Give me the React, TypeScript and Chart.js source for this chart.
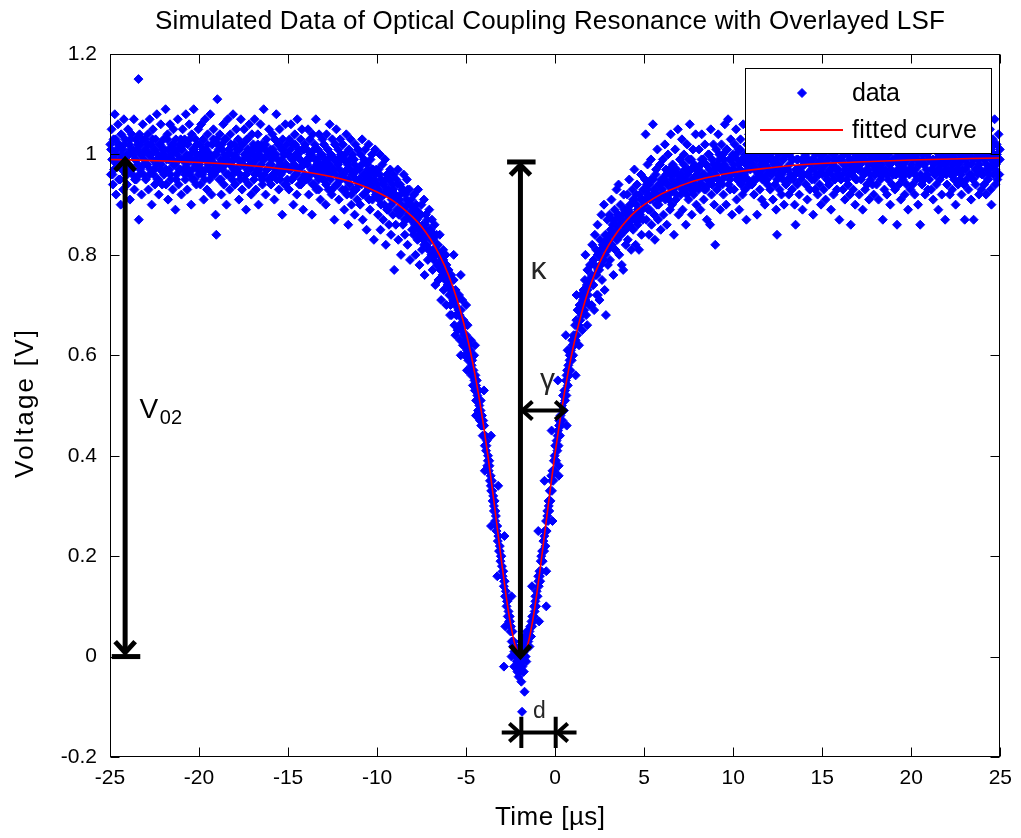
import React, { useEffect, useRef } from "react";
import { Chart, registerables } from "chart.js";

Chart.register(...registerables);

const FONT = '"Liberation Sans", Arial, Helvetica, sans-serif';

const titleText = "Simulated Data of Optical Coupling Resonance with Overlayed LSF";
const xAxisTitle = "Time [\u00b5s]";
const yAxisTitle = "Voltage [V]";
const legendLabels = ["data", "fitted curve"];

const xTickStep = 5;
const yTickStep = 0.2;
const xRange = [-25, 25];
const yRange = [-0.2, 1.2];

// Least-squares Lorentzian fit, sampled along the time axis
const fitTime = [
  -25, -22, -20, -18, -16, -14, -12, -11, -10, -9, -8, -7.5, -7, -6.5, -6, -5.5, -5, -4.75, -4.5, -4.25,
  -4, -3.75, -3.5, -3.25, -3, -2.75, -2.5, -2.25, -2, -1.9, -1.75, -1.5, -1.25, -1, -0.75, -0.5, -0.25, 0,
  0.25, 0.5, 0.75, 1, 1.25, 1.5, 1.75, 2, 2.5, 3, 3.5, 4, 4.5, 5, 6, 7, 8, 10, 12, 14, 17, 20, 25,
];
const fitVoltage = [
  0.99, 0.987, 0.984, 0.98, 0.974, 0.965, 0.951, 0.94, 0.925, 0.905, 0.875, 0.856, 0.831, 0.8, 0.761, 0.71,
  0.645, 0.606, 0.561, 0.511, 0.455, 0.393, 0.326, 0.256, 0.186, 0.12, 0.064, 0.023, 0.002, 0, 0.004, 0.029,
  0.074, 0.133, 0.2, 0.27, 0.34, 0.406, 0.466, 0.521, 0.57, 0.614, 0.652, 0.686, 0.716, 0.742, 0.785, 0.819,
  0.846, 0.868, 0.886, 0.9, 0.922, 0.937, 0.949, 0.964, 0.973, 0.98, 0.985, 0.989, 0.993,
];

// Simulated samples, stored as flat (time, voltage) pairs
const samplesLeftWing = [
  -24.98,1.02,-24.95,0.96,-24.91,1.05,-24.88,0.99,-24.84,0.94,-24.8,1.03,-24.77,0.97,-24.73,1.08,-24.7,1.0,-24.66,0.92,-24.62,1.01,-24.59,0.98,-24.55,1.06,-24.51,0.95,-24.48,1.02,-24.44,0.99,-24.4,0.9,-24.37,1.04,-24.33,0.97,-24.29,1.01,-24.26,0.93,-24.22,1.07,-24.18,0.98,-24.15,1.03,-24.11,0.96,-24.07,1.0,-24.04,0.94,
  -23.99,1.05,-23.96,0.98,-23.92,1.02,-23.88,0.91,-23.85,1.01,-23.81,0.97,-23.78,1.04,-23.74,0.96,-23.7,1.0,-23.66,1.07,-23.63,0.93,-23.59,0.99,-23.55,1.03,-23.52,0.95,-23.48,1.01,-23.44,0.98,-23.4,1.15,-23.38,0.87,-23.34,1.04,-23.3,0.97,-23.27,1.02,-23.23,0.92,-23.19,1.0,-23.16,1.06,-23.12,0.96,-23.08,0.99,-23.04,1.03,
  -22.99,0.95,-22.95,1.01,-22.92,0.98,-22.88,1.04,-22.84,0.93,-22.81,1.0,-22.77,1.07,-22.73,0.97,-22.7,1.02,-22.66,0.9,-22.62,0.99,-22.59,1.05,-22.55,0.96,-22.51,1.01,-22.48,0.94,-22.44,1.03,-22.4,0.98,-22.37,1.08,-22.33,0.95,-22.29,1.0,-22.26,0.92,-22.22,1.02,-22.18,0.97,-22.15,1.06,-22.11,0.99,-22.07,0.94,-22.03,1.01,
  -21.99,1.03,-21.96,0.96,-21.92,1.0,-21.88,1.09,-21.85,0.94,-21.81,0.99,-21.77,1.04,-21.74,0.91,-21.7,1.01,-21.66,0.97,-21.63,1.06,-21.59,0.95,-21.55,1.02,-21.52,0.99,-21.48,0.93,-21.44,1.05,-21.41,0.98,-21.37,1.01,-21.33,0.89,-21.3,1.03,-21.26,0.96,-21.22,1.0,-21.19,1.07,-21.15,0.94,-21.11,0.99,-21.08,1.02,-21.04,0.97,
  -20.99,0.92,-20.96,1.01,-20.92,1.05,-20.88,0.97,-20.85,0.99,-20.81,1.03,-20.77,0.95,-20.74,1.08,-20.7,0.98,-20.66,0.93,-20.63,1.02,-20.59,0.99,-20.55,1.06,-20.52,0.96,-20.48,1.0,-20.44,0.9,-20.41,1.04,-20.37,0.97,-20.33,1.01,-20.3,1.09,-20.26,0.95,-20.22,0.99,-20.19,1.03,-20.15,0.94,-20.11,1.0,-20.08,0.97,-20.04,1.05,
  -19.99,0.98,-19.96,1.02,-19.92,0.94,-19.88,1.06,-19.85,0.99,-19.81,0.96,-19.77,1.03,-19.74,0.91,-19.7,1.0,-19.66,1.07,-19.63,0.97,-19.59,1.01,-19.55,0.93,-19.52,1.04,-19.48,0.98,-19.44,1.0,-19.41,0.95,-19.37,1.08,-19.33,0.99,-19.3,0.92,-19.26,1.02,-19.22,0.97,-19.19,1.05,-19.15,0.96,-19.11,1.0,-19.07,0.88,-19.03,0.84,-19.01,1.03,
  -18.97,1.11,-18.94,0.97,-18.9,1.01,-18.86,0.95,-18.83,1.04,-18.79,0.99,-18.75,0.92,-18.72,1.02,-18.68,0.97,-18.64,1.06,-18.61,0.94,-18.57,1.0,-18.53,0.98,-18.5,1.03,-18.46,0.9,-18.42,0.99,-18.39,1.07,-18.35,0.96,-18.31,1.01,-18.28,0.93,-18.24,1.04,-18.2,0.98,-18.17,1.0,-18.13,0.95,-18.09,1.08,-18.06,0.97,-18.02,1.02,
  -17.98,0.94,-17.95,1.0,-17.91,1.05,-17.87,0.97,-17.84,0.99,-17.8,1.03,-17.76,0.91,-17.73,1.01,-17.69,0.96,-17.65,1.07,-17.62,0.98,-17.58,0.93,-17.54,1.02,-17.51,0.99,-17.47,1.05,-17.43,0.95,-17.4,1.0,-17.36,0.89,-17.32,1.03,-17.29,0.97,-17.25,1.01,-17.21,0.94,-17.18,1.06,-17.14,0.98,-17.1,1.0,-17.07,0.92,-17.03,1.04,
  -16.99,0.98,-16.95,1.02,-16.92,0.95,-16.88,1.07,-16.84,0.99,-16.81,0.93,-16.77,1.01,-16.73,0.97,-16.7,1.04,-16.66,0.9,-16.62,1.0,-16.59,0.96,-16.55,1.06,-16.51,0.98,-16.48,1.02,-16.44,0.94,-16.4,0.99,-16.37,1.09,-16.33,0.96,-16.29,1.01,-16.26,0.92,-16.22,1.03,-16.18,0.97,-16.15,1.0,-16.11,0.95,-16.07,1.05,-16.04,0.98,
  -15.99,1.01,-15.96,0.94,-15.92,0.99,-15.88,1.04,-15.85,0.96,-15.81,1.0,-15.77,0.91,-15.74,1.03,-15.7,0.97,-15.66,1.08,-15.63,0.95,-15.59,0.99,-15.55,1.02,-15.52,0.93,-15.48,1.05,-15.44,0.98,-15.41,0.96,-15.37,1.01,-15.33,0.88,-15.3,1.03,-15.26,0.97,-15.22,1.0,-15.19,0.94,-15.15,1.06,-15.11,0.98,-15.08,1.02,-15.04,0.95,
  -14.99,1.0,-14.95,0.93,-14.92,1.03,-14.88,0.97,-14.84,1.06,-14.81,0.95,-14.77,0.99,-14.73,1.02,-14.7,0.9,-14.66,0.98,-14.62,1.04,-14.59,0.96,-14.55,1.0,-14.51,0.92,-14.48,1.07,-14.44,0.97,-14.4,1.01,-14.37,0.94,-14.33,0.99,-14.29,1.03,-14.26,0.95,-14.22,1.05,-14.18,0.98,-14.15,0.89,-14.11,1.01,-14.07,0.96,-14.04,1.02,
  -13.99,0.95,-13.95,1.01,-13.92,0.98,-13.88,1.05,-13.84,0.92,-13.81,0.99,-13.77,1.03,-13.73,0.96,-13.7,1.0,-13.66,0.88,-13.62,1.04,-13.59,0.97,-13.55,0.94,-13.51,1.02,-13.48,0.99,-13.44,1.07,-13.4,0.93,-13.37,0.98,-13.33,1.01,-13.29,0.95,-13.26,1.04,-13.22,0.97,-13.18,0.91,-13.15,1.0,-13.11,0.96,-13.07,1.03,-13.04,0.98,
  -12.99,1.02,-12.95,0.95,-12.92,0.99,-12.88,0.9,-12.84,1.04,-12.81,0.97,-12.77,1.01,-12.73,0.93,-12.7,0.98,-12.66,1.06,-12.62,0.95,-12.59,1.0,-12.55,0.92,-12.51,1.03,-12.48,0.97,-12.44,0.99,-12.4,0.87,-12.37,1.02,-12.33,0.96,-12.29,1.05,-12.26,0.94,-12.22,0.99,-12.18,1.01,-12.15,0.91,-12.11,0.97,-12.07,1.03,-12.04,0.95,
  -11.99,0.99,-11.95,0.93,-11.92,1.02,-11.88,0.96,-11.84,0.89,-11.81,1.0,-11.77,0.95,-11.73,1.04,-11.7,0.92,-11.66,0.98,-11.62,0.86,-11.59,1.01,-11.55,0.94,-11.51,0.97,-11.48,1.03,-11.44,0.9,-11.4,0.96,-11.37,1.0,-11.33,0.93,-11.29,0.99,-11.26,0.88,-11.22,1.02,-11.18,0.95,-11.15,0.97,-11.11,0.91,-11.07,1.01,-11.04,0.94,
  -10.99,0.97,-10.95,0.9,-10.92,1.0,-10.88,0.94,-10.84,1.03,-10.81,0.87,-10.77,0.96,-10.73,0.99,-10.7,0.92,-10.66,1.01,-10.62,0.95,-10.59,0.85,-10.55,0.98,-10.51,0.93,-10.48,1.02,-10.44,0.96,-10.4,0.89,-10.37,0.99,-10.33,0.94,-10.29,1.0,-10.26,0.91,-10.22,0.97,-10.18,0.83,-10.15,0.95,-10.11,1.01,-10.07,0.92,-10.04,0.97,
];

const samplesLeftSlope = [
  -9.99,0.94,-9.95,0.88,-9.92,0.97,-9.88,0.91,-9.84,1.0,-9.81,0.85,-9.77,0.95,-9.73,0.92,-9.7,0.98,-9.66,0.87,-9.62,0.94,-9.59,0.9,-9.55,0.99,-9.51,0.82,-9.48,0.93,-9.44,0.96,-9.4,0.89,-9.37,0.95,-9.33,0.86,-9.29,0.92,-9.26,0.97,-9.22,0.84,-9.18,0.91,-9.15,0.94,-9.11,0.88,-9.07,0.96,-9.04,0.77,
  -8.99,0.92,-8.95,0.86,-8.92,0.95,-8.88,0.89,-8.84,0.97,-8.81,0.83,-8.77,0.91,-8.73,0.88,-8.7,0.94,-8.66,0.8,-8.62,0.9,-8.59,0.93,-8.55,0.86,-8.51,0.96,-8.48,0.89,-8.44,0.84,-8.4,0.92,-8.37,0.87,-8.33,0.95,-8.29,0.82,-8.26,0.9,-8.22,0.88,-8.18,0.93,-8.15,0.79,-8.11,0.87,-8.07,0.91,-8.04,0.85,
  -7.99,0.89,-7.95,0.84,-7.92,0.92,-7.88,0.86,-7.84,0.8,-7.81,0.9,-7.77,0.87,-7.73,0.83,-7.7,0.93,-7.66,0.85,-7.62,0.78,-7.59,0.88,-7.55,0.84,-7.51,0.9,-7.48,0.81,-7.44,0.86,-7.4,0.83,-7.37,0.91,-7.33,0.76,-7.29,0.85,-7.26,0.88,-7.22,0.82,-7.18,0.87,-7.15,0.79,-7.11,0.84,-7.07,0.89,-7.04,0.81,
  -6.99,0.85,-6.95,0.8,-6.92,0.87,-6.88,0.77,-6.84,0.83,-6.81,0.79,-6.77,0.86,-6.73,0.74,-6.7,0.81,-6.66,0.84,-6.62,0.78,-6.59,0.82,-6.55,0.75,-6.51,0.8,-6.48,0.84,-6.44,0.77,-6.4,0.71,-6.37,0.79,-6.33,0.76,-6.29,0.81,-6.26,0.73,-6.22,0.78,-6.18,0.75,-6.15,0.8,-6.11,0.7,-6.07,0.77,-6.04,0.74,
  -5.99,0.77,-5.95,0.72,-5.92,0.75,-5.88,0.7,-5.84,0.76,-5.81,0.68,-5.77,0.73,-5.73,0.71,-5.7,0.75,-5.66,0.66,-5.62,0.7,-5.59,0.73,-5.55,0.68,-5.51,0.71,-5.48,0.65,-5.44,0.69,-5.4,0.72,-5.37,0.66,-5.33,0.63,-5.29,0.69,-5.26,0.66,-5.22,0.71,-5.18,0.62,-5.15,0.67,-5.11,0.64,-5.07,0.6,-5.04,0.66,
  -4.99,0.64,-4.95,0.61,-4.92,0.66,-4.88,0.59,-4.84,0.62,-4.81,0.57,-4.77,0.61,-4.73,0.63,-4.7,0.56,-4.66,0.59,-4.62,0.54,-4.59,0.57,-4.55,0.6,-4.51,0.53,-4.48,0.56,-4.44,0.51,-4.4,0.55,-4.37,0.52,-4.33,0.49,-4.29,0.53,-4.26,0.5,-4.22,0.47,-4.18,0.51,-4.15,0.46,-4.11,0.48,-4.07,0.44,-4.04,0.47,
  -3.99,0.46,-3.95,0.42,-3.92,0.44,-3.88,0.41,-3.84,0.43,-3.81,0.38,-3.77,0.4,-3.73,0.37,-3.7,0.39,-3.66,0.35,-3.62,0.36,-3.59,0.33,-3.55,0.35,-3.51,0.31,-3.48,0.32,-3.44,0.29,-3.4,0.31,-3.37,0.27,-3.33,0.28,-3.29,0.25,-3.26,0.26,-3.22,0.23,-3.18,0.24,-3.15,0.21,-3.11,0.22,-3.07,0.19,-3.04,0.2,
  -2.99,0.18,-2.95,0.16,-2.92,0.17,-2.88,0.14,-2.84,0.15,-2.81,0.12,-2.77,0.13,-2.73,0.1,-2.7,0.11,-2.66,0.08,-2.62,0.09,-2.59,0.07,-2.55,0.08,-2.51,0.05,-2.48,0.06,-2.44,0.03,-2.4,0.05,-2.37,0.02,-2.33,0.03,-2.29,0.01,-2.26,0.02,-2.22,0.0,-2.18,0.01,-2.15,-0.01,-2.11,0.0,-2.07,-0.02,-2.04,0.01,
];

const samplesDipBottom = [
  -2.88,-0.02,-2.45,0.0,-2.3,-0.02,-2.12,-0.03,-2.05,-0.04,-1.98,-0.03,-1.9,-0.05,-1.78,-0.03,-1.62,-0.01,-1.72,-0.07,-1.86,-0.11,-0.5,0.1,
];

const samplesRightSlope = [
  -1.99,0.02,-1.95,-0.01,-1.92,0.03,-1.88,0.0,-1.84,-0.02,-1.81,0.02,-1.77,-0.03,-1.73,0.01,-1.7,0.04,-1.66,0.0,-1.62,0.03,-1.59,0.05,-1.55,0.02,-1.51,0.03,-1.48,0.04,-1.44,0.02,-1.4,0.06,-1.37,0.04,-1.33,0.07,-1.29,0.06,-1.26,0.08,-1.22,0.07,-1.18,0.1,-1.15,0.09,-1.11,0.12,-1.07,0.1,-1.04,0.13,
  -0.99,0.12,-0.95,0.16,-0.92,0.14,-0.88,0.17,-0.84,0.15,-0.81,0.19,-0.77,0.17,-0.73,0.21,-0.7,0.19,-0.66,0.23,-0.62,0.21,-0.59,0.25,-0.55,0.22,-0.51,0.27,-0.48,0.25,-0.44,0.29,-0.4,0.27,-0.37,0.31,-0.33,0.29,-0.29,0.33,-0.26,0.31,-0.22,0.36,-0.18,0.33,-0.15,0.37,-0.11,0.35,-0.07,0.39,-0.04,0.37,
  0.01,0.42,0.05,0.39,0.08,0.43,0.12,0.41,0.16,0.45,0.19,0.42,0.2,0.38,0.23,0.47,0.27,0.44,0.3,0.48,0.34,0.46,0.38,0.5,0.41,0.47,0.45,0.52,0.49,0.49,0.52,0.53,0.56,0.51,0.6,0.55,0.63,0.52,0.67,0.57,0.7,0.61,0.71,0.54,0.74,0.58,0.78,0.56,0.82,0.6,0.85,0.57,0.89,0.61,0.93,0.59,0.96,0.63,
  1.01,0.6,1.04,0.64,1.08,0.62,1.12,0.66,1.15,0.63,1.19,0.67,1.23,0.64,1.26,0.69,1.3,0.66,1.34,0.62,1.37,0.7,1.41,0.67,1.45,0.72,1.48,0.68,1.52,0.65,1.56,0.71,1.59,0.73,1.63,0.69,1.67,0.75,1.7,0.71,1.74,0.68,1.78,0.74,1.81,0.77,1.85,0.72,1.89,0.75,1.92,0.7,1.96,0.78,
  2.01,0.78,2.05,0.7,2.08,0.82,2.12,0.74,2.16,0.79,2.19,0.69,2.23,0.84,2.27,0.76,2.3,0.81,2.34,0.72,2.38,0.86,2.41,0.77,2.45,0.8,2.49,0.71,2.52,0.83,2.56,0.78,2.6,0.88,2.63,0.75,2.67,0.82,2.71,0.79,2.74,0.9,2.78,0.73,2.82,0.84,2.85,0.68,2.89,0.81,2.93,0.87,2.96,0.78,
  3.01,0.83,3.05,0.88,3.08,0.79,3.12,0.85,3.16,0.91,3.19,0.82,3.23,0.87,3.27,0.76,3.3,0.84,3.34,0.89,3.38,0.81,3.41,0.86,3.45,0.93,3.49,0.83,3.52,0.88,3.56,0.94,3.6,0.8,3.63,0.86,3.67,0.9,3.71,0.84,3.74,0.78,3.78,0.88,3.82,0.77,3.85,0.92,3.89,0.85,3.93,0.89,3.96,0.82,
  4.01,0.87,4.05,0.92,4.08,0.83,4.12,0.89,4.16,0.95,4.19,0.86,4.23,0.9,4.27,0.81,4.3,0.88,4.34,0.93,4.38,0.85,4.41,0.91,4.45,0.97,4.49,0.87,4.52,0.82,4.56,0.9,4.6,0.94,4.63,0.86,4.67,0.89,4.71,0.81,4.74,0.92,4.78,0.88,4.82,0.96,4.85,0.84,4.89,0.91,4.93,0.87,4.96,0.93,
];

// Samples scattered to either side of the steep flanks
const samplesFlankSpread = [
  -5.9,0.68,-5.7,0.8,-5.6,0.64,-5.3,0.76,-5.3,0.6,-5.0,0.7,-4.95,0.57,-4.5,0.62,-4.45,0.48,-4.0,0.53,-3.95,0.37,-3.6,0.44,
  -3.6,0.26,-3.2,0.34,-3.25,0.16,-2.85,0.24,-2.8,0.06,-2.45,0.12,
  -1.3,0.14,-0.9,0.07,-0.95,0.25,-0.5,0.17,-0.6,0.35,-0.15,0.27,-0.2,0.45,0.2,0.36,0.15,0.55,0.65,0.46,
  0.6,0.64,1.15,0.56,1.2,0.72,1.8,0.66,1.7,0.8,2.4,0.72,
];

const samplesRightWing = [
  5.01,0.9,5.05,0.95,5.08,1.04,5.12,0.87,5.16,0.93,5.19,0.98,5.23,0.89,5.27,0.84,5.3,0.94,5.34,0.91,5.38,0.99,5.41,0.86,5.45,0.92,5.49,1.06,5.52,0.95,5.56,0.88,5.6,0.83,5.63,0.93,5.67,0.97,5.71,0.9,5.74,1.01,5.78,0.87,5.82,0.94,5.85,0.91,5.89,0.98,5.93,0.85,5.96,0.95,
  6.01,0.93,6.05,0.99,6.08,0.88,6.12,0.95,6.16,1.02,6.19,0.91,6.23,0.96,6.27,0.86,6.3,0.94,6.34,1.0,6.38,0.92,6.41,0.97,6.45,0.89,6.49,1.04,6.52,0.95,6.56,0.9,6.6,0.98,6.63,0.93,6.67,0.84,6.71,0.96,6.74,1.01,6.78,0.91,6.82,0.97,6.85,0.94,6.89,1.05,6.93,0.88,6.96,0.95,
  7.01,0.99,7.05,0.92,7.08,0.96,7.12,1.03,7.16,0.89,7.19,0.95,7.23,1.0,7.27,0.93,7.3,0.97,7.34,0.86,7.38,0.94,7.41,1.02,7.45,0.96,7.49,0.91,7.52,0.99,7.56,1.06,7.6,0.93,7.63,0.97,7.67,0.88,7.71,0.95,7.74,1.01,7.78,0.92,7.82,0.98,7.85,0.94,7.89,1.04,7.93,0.9,7.96,0.96,
  8.01,0.97,8.05,0.93,8.08,1.01,8.12,0.95,8.16,0.89,8.19,0.98,8.23,1.04,8.27,0.94,8.3,0.99,8.34,0.91,8.38,0.96,8.41,1.02,8.45,0.93,8.49,0.98,8.52,0.87,8.56,0.95,8.6,1.0,8.63,0.94,8.67,0.97,8.7,0.86,8.74,1.05,8.78,0.92,8.82,0.99,8.85,0.95,8.89,1.02,8.93,0.9,8.96,0.97,8.99,0.82,
  9.02,0.96,9.05,1.01,9.09,0.93,9.12,0.98,9.16,1.04,9.2,0.94,9.23,0.99,9.27,0.89,9.31,0.97,9.34,1.02,9.38,0.95,9.42,1.0,9.45,0.92,9.49,0.98,9.53,1.06,9.56,0.96,9.6,0.9,9.64,1.01,9.67,0.97,9.71,1.07,9.75,0.94,9.78,0.99,9.82,0.93,9.86,1.03,9.89,0.96,9.93,0.88,9.97,1.0,
  10.01,0.98,10.05,0.93,10.08,1.02,10.12,0.96,10.16,1.05,10.19,0.91,10.23,0.99,10.27,0.95,10.3,1.01,10.34,0.89,10.38,0.97,10.41,1.03,10.45,0.94,10.49,0.99,10.52,0.92,10.56,1.06,10.6,0.96,10.63,1.0,10.67,0.93,10.71,0.98,10.74,0.87,10.78,1.02,10.82,0.95,10.85,0.99,10.89,1.04,10.93,0.94,10.96,0.97,
  11.01,1.0,11.05,0.94,11.08,0.98,11.12,1.05,11.16,0.92,11.19,0.97,11.23,1.02,11.27,0.95,11.3,0.99,11.34,0.88,11.38,1.01,11.41,0.96,11.45,1.04,11.49,0.93,11.52,0.98,11.56,1.0,11.6,0.91,11.63,0.97,11.67,1.06,11.71,0.95,11.74,0.99,11.78,0.9,11.82,1.03,11.85,0.96,11.89,1.0,11.93,0.94,11.96,1.02,
  12.01,0.97,12.05,1.03,12.08,0.93,12.12,0.99,12.16,0.96,12.19,1.05,12.23,0.91,12.27,0.98,12.3,1.01,12.34,0.94,12.38,0.99,12.41,0.89,12.46,0.84,12.49,1.02,12.52,0.96,12.56,1.0,12.6,0.93,12.63,1.06,12.67,0.97,12.71,0.92,12.74,1.01,12.78,0.95,12.82,0.99,12.85,0.9,12.89,1.04,12.93,0.97,12.96,0.94,
  13.01,1.0,13.05,0.95,13.08,1.03,13.12,0.92,13.16,0.98,13.19,1.01,13.23,0.96,13.27,1.07,13.3,0.93,13.34,0.99,13.38,0.95,13.41,1.02,13.45,0.9,13.5,0.86,13.52,0.97,13.56,1.04,13.6,0.94,13.63,0.99,13.67,1.01,13.71,0.92,13.74,0.97,13.78,1.05,13.82,0.95,13.85,0.99,13.89,0.89,13.93,1.02,13.96,0.96,
  14.01,0.98,14.05,1.03,14.08,0.94,14.12,0.99,14.16,0.91,14.19,1.01,14.23,0.96,14.27,1.05,14.3,0.93,14.34,0.98,14.38,1.02,14.41,0.95,14.45,0.99,14.49,0.88,14.52,1.04,14.56,0.97,14.6,0.93,14.63,1.0,14.67,0.96,14.71,1.06,14.74,0.92,14.78,0.98,14.82,1.01,14.85,0.94,14.89,0.99,14.93,0.9,14.96,1.03,
  15.01,0.96,15.05,1.0,15.08,0.93,15.12,1.04,15.16,0.98,15.19,0.91,15.23,1.02,15.27,0.95,15.3,0.99,15.34,1.06,15.38,0.94,15.41,0.97,15.45,1.01,15.49,0.89,15.52,0.96,15.56,1.03,15.6,0.98,15.63,0.92,15.67,1.0,15.71,0.95,15.74,1.05,15.78,0.97,15.82,0.93,15.85,1.01,15.89,0.96,15.93,0.99,15.96,0.87,
  16.01,1.02,16.05,0.95,16.08,0.99,16.12,1.05,16.16,0.93,16.19,0.98,16.23,1.01,16.27,0.91,16.3,0.97,16.34,1.03,16.38,0.95,16.41,1.0,16.45,0.94,16.49,1.07,16.52,0.98,16.56,0.92,16.6,0.86,16.63,1.01,16.67,0.96,16.71,0.99,16.74,0.93,16.78,1.04,16.82,0.97,16.85,0.9,16.89,1.0,16.93,0.95,16.96,1.02,
  17.01,0.97,17.05,1.01,17.08,0.92,17.12,0.98,17.16,1.04,17.19,0.95,17.23,0.99,17.27,0.89,17.3,1.02,17.34,0.96,17.38,1.0,17.41,0.93,17.45,1.06,17.49,0.97,17.52,0.94,17.56,1.01,17.6,0.98,17.63,0.91,17.67,1.03,17.71,0.96,17.74,0.99,17.78,1.05,17.82,0.94,17.85,0.98,17.89,0.92,17.93,1.01,17.96,0.96,
  18.01,1.0,18.05,0.94,18.08,1.03,18.12,0.97,18.16,0.91,18.19,0.99,18.23,1.05,18.27,0.95,18.3,0.98,18.34,1.02,18.4,0.87,18.42,0.96,18.45,1.0,18.49,0.93,18.52,1.04,18.56,0.97,18.6,0.99,18.63,0.92,18.67,1.01,18.71,0.95,18.74,1.06,18.78,0.98,18.82,0.9,18.85,0.97,18.89,1.02,18.93,0.94,18.96,0.99,
  19.01,0.96,19.05,1.02,19.08,0.93,19.12,0.99,19.16,1.04,19.2,0.86,19.23,0.97,19.27,1.0,19.3,0.94,19.34,1.03,19.38,0.96,19.41,0.91,19.45,0.99,19.49,1.05,19.52,0.95,19.56,0.98,19.6,1.01,19.63,0.92,19.67,0.97,19.71,1.03,19.74,0.94,19.78,0.99,19.82,0.89,19.85,1.0,19.89,0.96,19.93,1.04,19.96,0.93,
  20.01,0.98,20.05,1.01,20.08,0.94,20.12,0.99,20.16,1.05,20.19,0.92,20.23,0.97,20.27,1.02,20.3,0.95,20.34,1.0,20.38,0.9,20.41,0.98,20.45,1.03,20.5,0.86,20.52,0.96,20.56,1.01,20.6,0.94,20.63,0.99,20.67,1.06,20.71,0.95,20.74,0.98,20.78,0.92,20.82,1.02,20.85,0.97,20.89,1.0,20.93,0.93,20.96,1.04,
  21.01,0.95,21.05,0.99,21.08,1.03,21.12,0.93,21.16,0.97,21.19,1.01,21.23,0.91,21.27,0.98,21.3,1.05,21.34,0.96,21.38,0.99,21.41,0.94,21.45,1.02,21.49,0.97,21.52,0.89,21.56,1.0,21.6,0.95,21.63,1.04,21.67,0.98,21.71,0.92,21.74,1.01,21.78,0.96,21.82,0.99,21.85,1.06,21.9,0.87,21.93,0.97,21.96,1.0,
  22.01,0.94,22.05,1.02,22.08,0.97,22.12,0.99,22.16,0.92,22.19,1.04,22.23,0.96,22.27,1.0,22.3,0.93,22.34,0.98,22.38,1.05,22.41,0.95,22.45,0.99,22.49,0.9,22.52,1.02,22.56,0.97,22.6,1.01,22.63,0.94,22.67,0.98,22.71,1.06,22.74,0.95,22.78,0.99,22.82,0.92,22.85,1.03,22.89,0.97,22.93,1.0,22.96,0.94,
  23.0,0.87,23.03,0.99,23.06,1.03,23.1,0.95,23.14,0.98,23.17,1.05,23.21,0.93,23.25,1.0,23.28,0.96,23.32,1.02,23.36,0.91,23.39,0.98,23.43,1.04,23.47,0.95,23.5,0.87,23.54,0.99,23.58,1.01,23.61,0.94,23.65,0.97,23.69,1.06,23.72,0.96,23.76,0.99,23.8,0.92,23.83,1.03,23.87,0.97,23.91,1.0,23.94,0.93,23.98,1.02,
  24.02,0.96,24.05,1.01,24.09,0.94,24.13,0.99,24.16,1.04,24.2,0.92,24.24,0.98,24.27,1.02,24.31,0.95,24.35,1.0,24.38,0.97,24.42,1.05,24.46,0.93,24.5,0.9,24.53,0.99,24.57,1.03,24.61,0.96,24.64,1.0,24.68,1.07,24.72,0.94,24.75,0.98,24.79,1.02,24.83,0.95,24.86,0.99,24.9,1.04,24.94,0.96,24.97,1.01,
];

// Samples lying close to the dense centre of the band
const samplesCore = [
  -24.94,1.01,-24.86,0.96,-24.78,0.99,-24.69,1.03,-24.61,0.98,-24.53,1.02,-24.44,0.95,-24.36,1.0,-24.28,0.97,-24.19,1.02,-24.11,0.99,-24.03,0.96,
  -23.93,1.0,-23.85,1.03,-23.77,0.97,-23.68,1.01,-23.6,0.95,-23.52,0.99,-23.43,1.02,-23.35,0.96,-23.27,1.0,-23.18,1.03,-23.1,0.98,-23.02,1.01,
  -22.95,0.98,-22.86,1.02,-22.78,0.96,-22.7,1.0,-22.61,1.03,-22.53,0.97,-22.45,1.01,-22.36,0.99,-22.28,0.95,-22.2,1.02,-22.11,0.98,-22.03,1.0,
  -21.94,1.01,-21.86,0.97,-21.78,1.03,-21.69,0.99,-21.61,0.96,-21.53,1.0,-21.44,1.02,-21.36,0.98,-21.28,0.95,-21.19,1.01,-21.11,0.97,-21.03,1.03,
  -20.95,0.99,-20.86,1.02,-20.78,0.96,-20.7,1.0,-20.61,0.97,-20.53,1.03,-20.45,0.99,-20.36,0.95,-20.28,1.01,-20.2,0.98,-20.11,1.02,-20.03,0.96,
  -19.94,1.0,-19.86,0.97,-19.78,1.01,-19.69,0.95,-19.61,0.99,-19.53,1.02,-19.44,0.97,-19.36,1.0,-19.28,0.96,-19.19,1.03,-19.11,0.98,-19.03,1.0,
  -18.95,1.02,-18.86,0.98,-18.78,0.95,-18.7,1.01,-18.61,0.99,-18.53,1.03,-18.45,0.96,-18.36,1.0,-18.28,0.98,-18.2,1.02,-18.11,0.96,-18.03,0.99,
  -17.94,0.97,-17.86,1.01,-17.78,0.99,-17.69,0.95,-17.61,1.02,-17.53,0.98,-17.44,1.0,-17.36,0.96,-17.28,1.03,-17.19,0.99,-17.11,0.97,-17.03,1.01,
  -16.95,1.0,-16.86,0.96,-16.78,0.99,-16.7,1.02,-16.61,0.97,-16.53,1.01,-16.45,0.95,-16.36,0.99,-16.28,1.02,-16.2,0.97,-16.11,1.0,-16.03,0.95,
  -15.94,0.98,-15.86,1.01,-15.78,0.96,-15.69,1.0,-15.61,0.97,-15.53,1.02,-15.44,0.95,-15.36,0.99,-15.28,1.01,-15.19,0.97,-15.11,0.94,-15.03,1.0,
  -14.95,0.97,-14.86,1.01,-14.78,0.95,-14.7,0.99,-14.61,1.02,-14.53,0.96,-14.45,1.0,-14.36,0.97,-14.28,0.94,-14.2,1.01,-14.11,0.98,-14.03,0.95,
  -13.94,0.99,-13.86,0.95,-13.78,1.0,-13.69,0.97,-13.61,0.94,-13.53,1.01,-13.44,0.96,-13.36,0.99,-13.28,0.93,-13.19,0.98,-13.11,1.0,-13.03,0.95,
  -12.95,0.97,-12.86,0.94,-12.78,0.99,-12.7,0.96,-12.61,1.0,-12.53,0.93,-12.45,0.97,-12.36,0.99,-12.28,0.94,-12.2,0.98,-12.11,0.95,-12.03,1.0,
  -11.94,0.96,-11.86,0.99,-11.78,0.93,-11.69,0.97,-11.61,0.95,-11.53,0.99,-11.44,0.92,-11.36,0.96,-11.28,0.98,-11.19,0.93,-11.11,0.97,-11.03,0.95,
  -10.95,0.95,-10.86,0.98,-10.78,0.92,-10.7,0.96,-10.61,0.94,-10.53,0.97,-10.45,0.91,-10.36,0.95,-10.28,0.97,-10.19,0.93,-10.11,0.96,-10.03,0.92,
  -9.94,0.93,-9.86,0.96,-9.78,0.9,-9.69,0.94,-9.61,0.92,-9.53,0.95,-9.44,0.89,-9.36,0.93,-9.28,0.95,-9.19,0.9,-9.11,0.93,-9.03,0.91,
  -8.95,0.91,-8.86,0.94,-8.78,0.88,-8.69,0.92,-8.61,0.89,-8.53,0.93,-8.44,0.87,-8.36,0.91,-8.28,0.93,-8.19,0.88,-8.11,0.9,-8.03,0.87,
  -7.95,0.88,-7.86,0.85,-7.78,0.89,-7.69,0.86,-7.61,0.84,-7.53,0.88,-7.44,0.85,-7.36,0.82,-7.28,0.86,-7.19,0.84,-7.11,0.81,-7.03,0.85,
  -6.95,0.83,-6.86,0.81,-6.78,0.84,-6.69,0.8,-6.61,0.82,-6.53,0.78,-6.44,0.8,-6.36,0.77,-6.28,0.79,-6.19,0.76,-6.11,0.78,-6.03,0.75,
  -5.95,0.75,-5.86,0.73,-5.78,0.72,-5.69,0.71,-5.61,0.71,-5.53,0.68,-5.44,0.68,-5.36,0.68,-5.28,0.65,-5.19,0.66,-5.11,0.62,-5.03,0.63,
  -4.95,0.63,-4.86,0.6,-4.78,0.59,-4.69,0.58,-4.61,0.56,-4.53,0.55,-4.44,0.54,-4.36,0.51,-4.28,0.51,-4.19,0.49,-4.11,0.46,-4.03,0.46,
  -3.94,0.44,-3.86,0.42,-3.78,0.39,-3.69,0.38,-3.61,0.34,-3.53,0.33,-3.44,0.3,-3.36,0.29,-3.28,0.26,-3.19,0.24,-3.11,0.21,-3.03,0.2,
  -2.94,0.17,-2.86,0.15,-2.78,0.12,-2.69,0.11,-2.61,0.08,-2.53,0.07,-2.44,0.05,-2.36,0.03,-2.28,0.02,-2.19,0.0,-2.11,0.01,-2.03,-0.01,
  -1.94,0.01,-1.86,-0.01,-1.78,0.02,-1.69,0.0,-1.61,0.03,-1.53,0.02,-1.44,0.05,-1.36,0.04,-1.28,0.08,-1.19,0.08,-1.11,0.11,-1.03,0.12,
  -0.94,0.15,-0.86,0.16,-0.78,0.2,-0.69,0.21,-0.61,0.24,-0.53,0.25,-0.44,0.28,-0.36,0.3,-0.28,0.33,-0.19,0.35,-0.11,0.37,-0.03,0.4,
  0.06,0.42,0.14,0.44,0.22,0.46,0.31,0.47,0.39,0.49,0.47,0.52,0.56,0.53,0.64,0.56,0.72,0.57,0.81,0.59,0.89,0.6,0.97,0.62,
  1.06,0.63,1.14,0.64,1.22,0.66,1.31,0.66,1.39,0.69,1.47,0.69,1.56,0.7,1.64,0.72,1.72,0.72,1.81,0.73,1.89,0.74,1.97,0.75,
  2.06,0.76,2.14,0.74,2.22,0.78,2.31,0.76,2.39,0.8,2.47,0.77,2.56,0.81,2.64,0.79,2.72,0.82,2.81,0.8,2.89,0.83,2.97,0.81,
  3.06,0.84,3.14,0.82,3.22,0.86,3.31,0.84,3.39,0.87,3.47,0.85,3.56,0.88,3.64,0.84,3.72,0.87,3.81,0.86,3.89,0.89,3.97,0.85,
  4.06,0.88,4.14,0.86,4.22,0.9,4.31,0.87,4.39,0.91,4.47,0.88,4.56,0.92,4.64,0.89,4.72,0.87,4.81,0.91,4.89,0.89,4.97,0.93,
  5.06,0.91,5.14,0.94,5.22,0.92,5.31,0.89,5.39,0.95,5.47,0.91,5.56,0.93,5.64,0.96,5.72,0.92,5.81,0.9,5.89,0.94,5.97,0.92,
  6.06,0.95,6.14,0.92,6.22,0.97,6.31,0.94,6.39,0.91,6.47,0.96,6.56,0.93,6.64,0.97,6.72,0.94,6.81,0.92,6.89,0.96,6.97,0.94,
  7.06,0.96,7.14,0.93,7.22,0.98,7.31,0.95,7.39,0.92,7.47,0.97,7.56,0.94,7.64,0.99,7.72,0.95,7.81,0.93,7.89,0.97,7.97,0.96,
  8.06,0.97,8.14,0.94,8.22,0.99,8.31,0.96,8.39,0.93,8.47,0.98,8.56,0.95,8.64,1.0,8.72,0.96,8.81,0.94,8.89,0.98,8.97,0.96,
  9.06,0.98,9.14,0.95,9.22,1.0,9.31,0.97,9.39,0.94,9.47,0.99,9.56,0.96,9.64,1.01,9.72,0.97,9.81,0.95,9.89,0.99,9.97,0.97,
  10.06,0.97,10.14,1.0,10.22,0.95,10.31,0.98,10.39,1.01,10.47,0.96,10.56,0.99,10.64,0.95,10.72,1.0,10.81,0.97,10.89,0.94,10.97,0.99,
  11.06,0.98,11.14,0.95,11.22,1.0,11.31,0.97,11.39,1.02,11.47,0.96,11.56,0.99,11.64,0.95,11.72,1.01,11.81,0.98,11.89,0.95,11.97,0.99,
  12.06,1.0,12.14,0.96,12.22,0.99,12.31,0.97,12.39,1.02,12.47,0.95,12.56,0.98,12.64,1.01,12.72,0.96,12.81,0.99,12.89,0.97,12.97,1.0,
  13.06,0.97,13.14,1.0,13.22,0.95,13.31,0.99,13.39,1.02,13.47,0.96,13.56,0.99,13.64,0.97,13.72,1.01,13.81,0.96,13.89,0.99,13.97,0.98,
  14.06,1.0,14.14,0.96,14.22,0.99,14.31,1.02,14.39,0.97,14.47,0.99,14.56,0.95,14.64,1.01,14.72,0.98,14.81,0.96,14.89,1.0,14.97,0.97,
  15.06,0.98,15.14,1.01,15.22,0.96,15.31,0.99,15.39,1.02,15.47,0.97,15.56,1.0,15.64,0.95,15.72,0.99,15.81,1.01,15.89,0.97,15.97,0.99,
  16.06,0.99,16.14,0.96,16.22,1.0,16.31,0.98,16.39,1.02,16.47,0.96,16.56,0.99,16.64,0.97,16.72,1.01,16.81,0.98,16.89,0.95,16.97,0.99,
  17.06,1.0,17.14,0.97,17.22,1.01,17.31,0.96,17.39,0.99,17.47,1.02,17.56,0.97,17.64,1.0,17.72,0.95,17.81,0.99,17.89,1.01,17.97,0.97,
  18.06,0.98,18.14,1.01,18.22,0.96,18.31,1.0,18.39,0.97,18.47,1.02,18.56,0.99,18.64,0.96,18.72,1.0,18.81,0.98,18.89,1.01,18.97,0.96,
  19.06,0.99,19.14,0.96,19.22,1.01,19.31,0.98,19.39,1.02,19.47,0.97,19.56,1.0,19.64,0.96,19.72,0.99,19.81,1.02,19.89,0.97,19.97,1.0,
  20.06,0.97,20.14,1.0,20.22,0.96,20.31,0.99,20.39,1.02,20.47,0.98,20.56,0.95,20.64,1.0,20.72,0.98,20.81,1.01,20.89,0.96,20.97,0.99,
  21.06,1.01,21.14,0.97,21.22,0.99,21.31,0.96,21.39,1.02,21.47,0.99,21.56,0.97,21.64,1.0,21.72,0.96,21.81,1.02,21.89,0.98,21.97,0.96,
  22.06,0.99,22.14,1.02,22.22,0.97,22.31,1.0,22.39,0.96,22.47,0.99,22.56,1.02,22.64,0.97,22.72,1.0,22.81,0.96,22.89,0.99,22.97,1.01,
  23.06,0.97,23.14,1.0,23.22,0.98,23.31,1.02,23.39,0.96,23.47,0.99,23.56,1.01,23.64,0.97,23.72,1.0,23.81,0.98,23.89,1.02,23.97,0.96,
  24.06,0.99,24.14,1.02,24.22,0.97,24.31,1.0,24.39,0.96,24.47,1.01,24.56,0.98,24.64,1.02,24.72,0.97,24.81,1.0,24.89,0.96,24.97,0.99,
];

// Annotation geometry, in data units
const depthArrow = { t: -24.15, v0: 0, v1: 0.99, capT: [-24.9, -23.3] };
const kappaArrow = { t: -1.95, v0: 0, v1: 0.985, capT: [-2.7, -1.1] };
const gammaArrow = { v: 0.49, t0: -1.95, t1: 0.62 };
const detuneArrow = { v: -0.151, t0: -3.0, t1: 1.2, marks: [-1.9, 0.03], markV: [-0.12, -0.182] };

function toPoints(flat: number[]) {
  const out: { x: number; y: number }[] = [];
  for (let i = 0; i + 1 < flat.length; i += 2) out.push({ x: flat[i], y: flat[i + 1] });
  return out;
}

function drawDiamond(ctx: CanvasRenderingContext2D, x: number, y: number, r: number) {
  ctx.beginPath();
  ctx.moveTo(x - r, y);
  ctx.lineTo(x, y - r);
  ctx.lineTo(x + r, y);
  ctx.lineTo(x, y + r);
  ctx.closePath();
  ctx.fill();
  ctx.stroke();
}

function chevron(ctx: CanvasRenderingContext2D, tx: number, ty: number, dx: number, dy: number, len: number, half: number) {
  const bx = tx - dx * len;
  const by = ty - dy * len;
  ctx.beginPath();
  ctx.moveTo(bx - dy * half, by + dx * half);
  ctx.lineTo(tx, ty);
  ctx.lineTo(bx + dy * half, by - dx * half);
  ctx.stroke();
}

function spacedText(ctx: CanvasRenderingContext2D, text: string, left: number, y: number, width: number) {
  const c = ctx as any;
  c.letterSpacing = "0px";
  const natural = ctx.measureText(text).width;
  const extra = text.length > 1 ? (width - natural) / (text.length - 1) : 0;
  c.letterSpacing = `${extra.toFixed(2)}px`;
  ctx.textAlign = "left";
  ctx.fillText(text, left, y);
  c.letterSpacing = "0px";
}

const overlayPlugin = {
  id: "overlay",
  afterDatasetsDraw(chart: any) {
    const { ctx, chartArea: a, scales } = chart;
    const xs = scales.x;
    const ys = scales.y;
    const px = (v: number) => xs.getPixelForValue(v);
    const py = (v: number) => ys.getPixelForValue(v);
    ctx.save();

    // axes box with inward ticks on all four sides
    ctx.strokeStyle = "#000";
    ctx.lineWidth = 1;
    const L = Math.round(a.left) + 0.5;
    const R = Math.round(a.right) - 0.5;
    const T = Math.round(a.top) + 0.5;
    const B = Math.round(a.bottom) - 0.5;
    ctx.strokeRect(L, T, R - L, B - T);
    const tl = 9;
    ctx.beginPath();
    xs.ticks.forEach((t: any) => {
      const X = Math.round(px(t.value)) + 0.5;
      ctx.moveTo(X, B);
      ctx.lineTo(X, B - tl);
      ctx.moveTo(X, T);
      ctx.lineTo(X, T + tl);
    });
    ys.ticks.forEach((t: any) => {
      const Y = Math.round(py(t.value)) + 0.5;
      ctx.moveTo(L, Y);
      ctx.lineTo(L + tl, Y);
      ctx.moveTo(R, Y);
      ctx.lineTo(R - tl, Y);
    });
    ctx.stroke();

    // dimension arrows
    ctx.strokeStyle = "#000";
    ctx.lineCap = "butt";
    ctx.lineJoin = "miter";

    // depth V02
    {
      const X = px(depthArrow.t);
      const y0 = py(depthArrow.v0);
      const y1 = py(depthArrow.v1);
      ctx.lineWidth = 5;
      ctx.beginPath();
      ctx.moveTo(X, y1 + 2);
      ctx.lineTo(X, y0 - 4);
      ctx.stroke();
      chevron(ctx, X, y1, 0, -1, 11, 10);
      chevron(ctx, X, y0 - 4, 0, 1, 11, 10);
      ctx.beginPath();
      ctx.moveTo(px(depthArrow.capT[0]), y0);
      ctx.lineTo(px(depthArrow.capT[1]), y0);
      ctx.stroke();
    }

    // linewidth kappa
    {
      const X = px(kappaArrow.t);
      const y0 = py(kappaArrow.v0);
      const y1 = py(kappaArrow.v1);
      ctx.lineWidth = 5;
      ctx.beginPath();
      ctx.moveTo(X, y1 + 2);
      ctx.lineTo(X, y0 - 2);
      ctx.stroke();
      chevron(ctx, X, y1 + 3, 0, -1, 10, 10);
      chevron(ctx, X, y0, 0, 1, 11, 10);
      ctx.beginPath();
      ctx.moveTo(px(kappaArrow.capT[0]), y1);
      ctx.lineTo(px(kappaArrow.capT[1]), y1);
      ctx.stroke();
    }

    // half width gamma
    {
      const Y = py(gammaArrow.v);
      const x0 = px(gammaArrow.t0);
      const x1 = px(gammaArrow.t1);
      ctx.lineWidth = 4;
      ctx.beginPath();
      ctx.moveTo(x0 + 2, Y);
      ctx.lineTo(x1 - 2, Y);
      ctx.stroke();
      chevron(ctx, x0 + 2, Y, -1, 0, 10, 9);
      chevron(ctx, x1 - 1, Y, 1, 0, 10, 9);
    }

    // detuning d
    {
      const Y = py(detuneArrow.v);
      const x0 = px(detuneArrow.t0);
      const x1 = px(detuneArrow.t1);
      const m0 = px(detuneArrow.marks[0]);
      const m1 = px(detuneArrow.marks[1]);
      ctx.lineWidth = 4;
      ctx.beginPath();
      ctx.moveTo(x0, Y);
      ctx.lineTo(x1, Y);
      ctx.moveTo(m0, py(detuneArrow.markV[0]));
      ctx.lineTo(m0, py(detuneArrow.markV[1]));
      ctx.moveTo(m1, py(detuneArrow.markV[0]));
      ctx.lineTo(m1, py(detuneArrow.markV[1]));
      ctx.stroke();
      chevron(ctx, m0 - 2, Y, 1, 0, 10, 9);
      chevron(ctx, m1 + 2, Y, -1, 0, 10, 9);
    }

    // symbol labels
    ctx.fillStyle = "#262626";
    ctx.textBaseline = "middle";
    ctx.textAlign = "center";
    ctx.font = `32px ${FONT}`;
    ctx.fillText("\u03ba", px(kappaArrow.t) + 18, py(0.77));
    ctx.font = `30px ${FONT}`;
    ctx.fillText("\u03b3", px(gammaArrow.t0) + 27, py(0.55));
    ctx.font = `23px ${FONT}`;
    ctx.fillText("d", px(detuneArrow.marks[0]) + 18, py(-0.11));
    ctx.fillStyle = "#000";
    ctx.textAlign = "left";
    ctx.font = `28px ${FONT}`;
    ctx.fillText("V", px(-23.35), py(0.49));
    ctx.font = `20px ${FONT}`;
    ctx.fillText("02", px(-22.2), py(0.474));

    // legend
    const lx = 745.5, ly = 68.5, lw = 246, lh = 85;
    ctx.fillStyle = "#fff";
    ctx.fillRect(lx, ly, lw, lh);
    ctx.strokeStyle = "#000";
    ctx.lineWidth = 1;
    ctx.strokeRect(lx, ly, lw, lh);
    ctx.fillStyle = "#0000ff";
    ctx.strokeStyle = "#0000ff";
    drawDiamond(ctx, 802, 93, 4.5);
    ctx.strokeStyle = "#ff0000";
    ctx.lineWidth = 2;
    ctx.beginPath();
    ctx.moveTo(760, 130);
    ctx.lineTo(843, 130);
    ctx.stroke();
    ctx.fillStyle = "#000";
    ctx.font = `25px ${FONT}`;
    ctx.textBaseline = "middle";
    spacedText(ctx, legendLabels[0], 852, 94, 48);
    spacedText(ctx, legendLabels[1], 852, 131, 125);

    // title and axis titles
    ctx.font = `26px ${FONT}`;
    spacedText(ctx, titleText, 155, 22, 790);
    spacedText(ctx, xAxisTitle, 495, 818, 110);
    ctx.save();
    ctx.translate(26, 404);
    ctx.rotate(-Math.PI / 2);
    spacedText(ctx, yAxisTitle, -74, 0, 148);
    ctx.restore();

    ctx.restore();
  },
};

export default function App() {
  const canvasRef = useRef<HTMLCanvasElement | null>(null);

  useEffect(() => {
    const canvas = canvasRef.current;
    if (!canvas) return;
    const samples = [
      ...toPoints(samplesLeftWing),
      ...toPoints(samplesLeftSlope),
      ...toPoints(samplesDipBottom),
      ...toPoints(samplesRightSlope),
      ...toPoints(samplesFlankSpread),
      ...toPoints(samplesRightWing),
      ...toPoints(samplesCore),
    ];
    const fit = fitTime.map((t, i) => ({ x: t, y: fitVoltage[i] }));
    const tickFont = { family: FONT, size: 21 };

    const chart = new Chart(canvas, {
      type: "scatter",
      data: {
        datasets: [
          {
            label: legendLabels[1],
            data: fit,
            showLine: true,
            borderColor: "#ff0000",
            borderWidth: 1.6,
            pointRadius: 0,
            cubicInterpolationMode: "monotone",
            order: 0,
          } as any,
          {
            label: legendLabels[0],
            data: samples,
            showLine: false,
            pointStyle: "rectRot",
            pointRadius: 4.5,
            borderWidth: 1,
            backgroundColor: "#0000ff",
            borderColor: "#0000ff",
            clip: false,
            order: 1,
          } as any,
        ],
      },
      options: {
        responsive: false,
        animation: false,
        devicePixelRatio: 1,
        events: [],
        layout: { padding: { top: 54, right: 18, bottom: 0, left: 0 } },
        plugins: { legend: { display: false }, tooltip: { enabled: false }, title: { display: false } },
        scales: {
          x: {
            type: "linear",
            min: xRange[0],
            max: xRange[1],
            grid: { display: false, drawTicks: false },
            border: { display: false },
            ticks: { stepSize: xTickStep, color: "#000", font: tickFont, padding: 9, maxRotation: 0, autoSkip: false },
            afterFit: (s: any) => {
              s.height = 81;
            },
          },
          y: {
            type: "linear",
            min: yRange[0],
            max: yRange[1],
            grid: { display: false, drawTicks: false },
            border: { display: false },
            ticks: {
              stepSize: yTickStep,
              color: "#000",
              font: tickFont,
              padding: 13,
              autoSkip: false,
              callback: (v: any) => String(Number(Number(v).toFixed(1))),
            },
            afterFit: (s: any) => {
              s.width = 110;
            },
          },
        },
      },
      plugins: [overlayPlugin],
    });
    return () => chart.destroy();
  }, []);

  return (
    <div style={{ position: "absolute", left: 0, top: 0, width: 1021, height: 838, background: "#fff" }}>
      <canvas ref={canvasRef} width={1021} height={838} style={{ display: "block", width: 1021, height: 838 }} />
    </div>
  );
}
